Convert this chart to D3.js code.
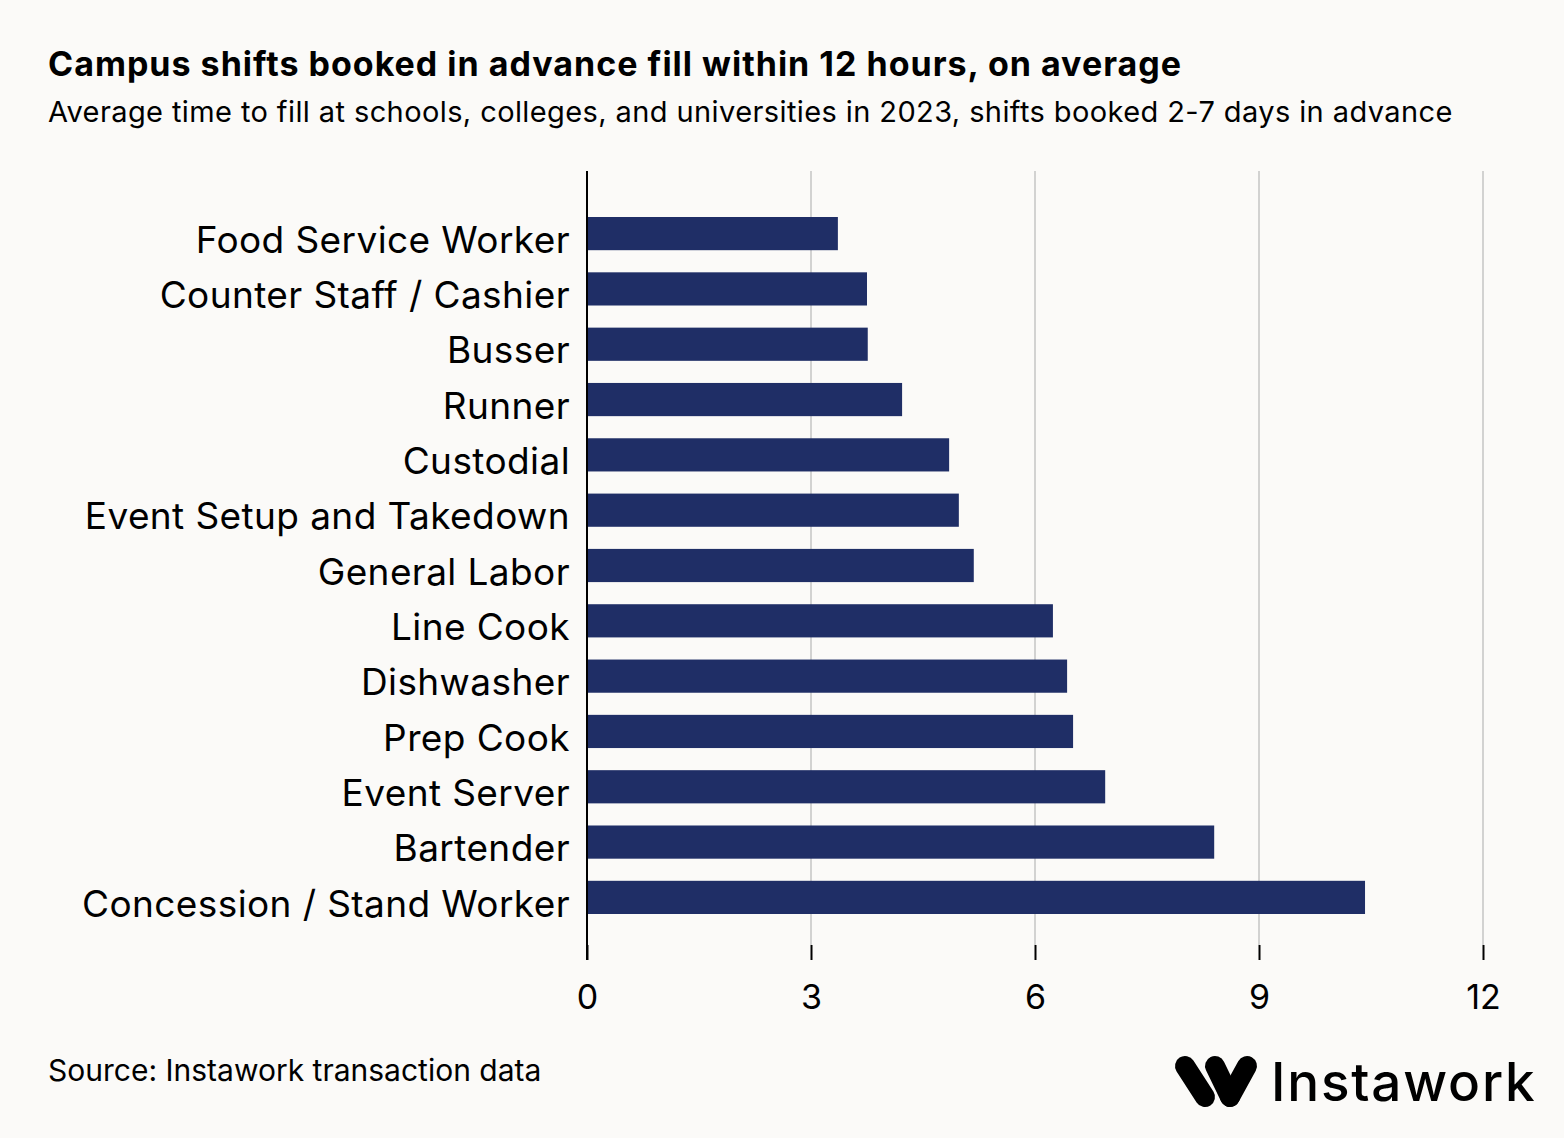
<!DOCTYPE html>
<html><head><meta charset="utf-8">
<script src="https://cdn.jsdelivr.net/npm/d3@7"></script>
<style>
html,body{margin:0;padding:0;background:#fbfaf8;}
svg{display:block;}
text{font-family:"Inter","Lato",sans-serif;}
</style></head>
<body>
<svg id="chart" width="1564" height="1138"></svg>
<script>
const categories = ["Food Service Worker","Counter Staff / Cashier","Busser","Runner","Custodial","Event Setup and Takedown","General Labor","Line Cook","Dishwasher","Prep Cook","Event Server","Bartender","Concession / Stand Worker"];
const values = [3.36,3.75,3.76,4.22,4.85,4.98,5.18,6.24,6.43,6.51,6.94,8.40,10.42];
const tickValues = [0,3,6,9,12];
const titleText = "Campus shifts booked in advance fill within 12 hours, on average";
const subtitleText = "Average time to fill at schools, colleges, and universities in 2023, shifts booked 2-7 days in advance";
const sourceText = "Source: Instawork transaction data";
const logoText = "Instawork";

(function(){
const svg = d3.select("#chart");
svg.append("rect").attr("width",1564).attr("height",1138).attr("fill","#fbfaf8");

const mLeft = 587, mRight = 1483, mTop = 171, mBottom = 945;
const x = d3.scaleLinear().domain([0,12]).range([mLeft,mRight]);
const y = d3.scaleBand().domain(categories).range([217, 914]).paddingInner(0.4).paddingOuter(0);

svg.append("g").selectAll("line").data(tickValues.slice(1)).join("line")
  .attr("x1",d=>x(d)).attr("x2",d=>x(d)).attr("y1",mTop).attr("y2",mBottom)
  .attr("stroke","#c4c4c4").attr("stroke-width",1.5);

svg.append("g").selectAll("rect").data(categories).join("rect")
  .attr("x",x(0)).attr("y",d=>y(d)).attr("height",y.bandwidth())
  .attr("width",(d,i)=>x(values[i])-x(0)).attr("fill","#1f2e66");

const xAxis = d3.axisBottom(x).tickValues(tickValues).tickSize(15).tickPadding(25).tickFormat(d3.format("d"));
const gx = svg.append("g").attr("transform",`translate(0,${mBottom})`).call(xAxis);
gx.select(".domain").remove();
gx.selectAll(".tick line").attr("stroke","#000").attr("stroke-width",2);
gx.selectAll(".tick text").attr("font-size",34).attr("fill","#000").attr("font-family","Inter, Lato, sans-serif");

svg.append("line").attr("x1",mLeft).attr("x2",mLeft).attr("y1",mTop).attr("y2",960)
  .attr("stroke","#000").attr("stroke-width",2);

const yAxis = d3.axisLeft(y).tickSize(0).tickPadding(17);
const gy = svg.append("g").attr("transform",`translate(${mLeft},0)`).call(yAxis);
gy.select(".domain").remove();
gy.selectAll(".tick text").attr("font-size",37).attr("letter-spacing",0.4).attr("dy","0.52em")
  .attr("fill","#000").attr("font-family","Inter, Lato, sans-serif");

svg.append("text").attr("x",48).attr("y",76).attr("font-size",34).attr("letter-spacing",1).attr("font-weight",700).attr("fill","#000").text(titleText);
svg.append("text").attr("x",48).attr("y",122).attr("font-size",29).attr("letter-spacing",0.4).attr("fill","#000").text(subtitleText);
svg.append("text").attr("x",48).attr("y",1081).attr("font-size",30).attr("fill","#000").text(sourceText);

const logo = svg.append("g");
const drawLine = (x1,y1,x2,y2,color,w)=>logo.append("line").attr("x1",x1).attr("y1",y1).attr("x2",x2).attr("y2",y2)
  .attr("stroke",color).attr("stroke-width",w).attr("stroke-linecap","round");
drawLine(1215,1066,1230,1097,"#000",20);
drawLine(1230,1097,1247,1066,"#000",20);
drawLine(1185,1066,1205,1097,"#fbfaf8",24);
drawLine(1185,1066,1205,1097,"#000",20);
logo.append("text").attr("x",1271).attr("y",1101).attr("font-size",53).attr("letter-spacing",1.8).attr("font-weight",500).attr("fill","#000").text(logoText);
})();
</script>
</body></html>
